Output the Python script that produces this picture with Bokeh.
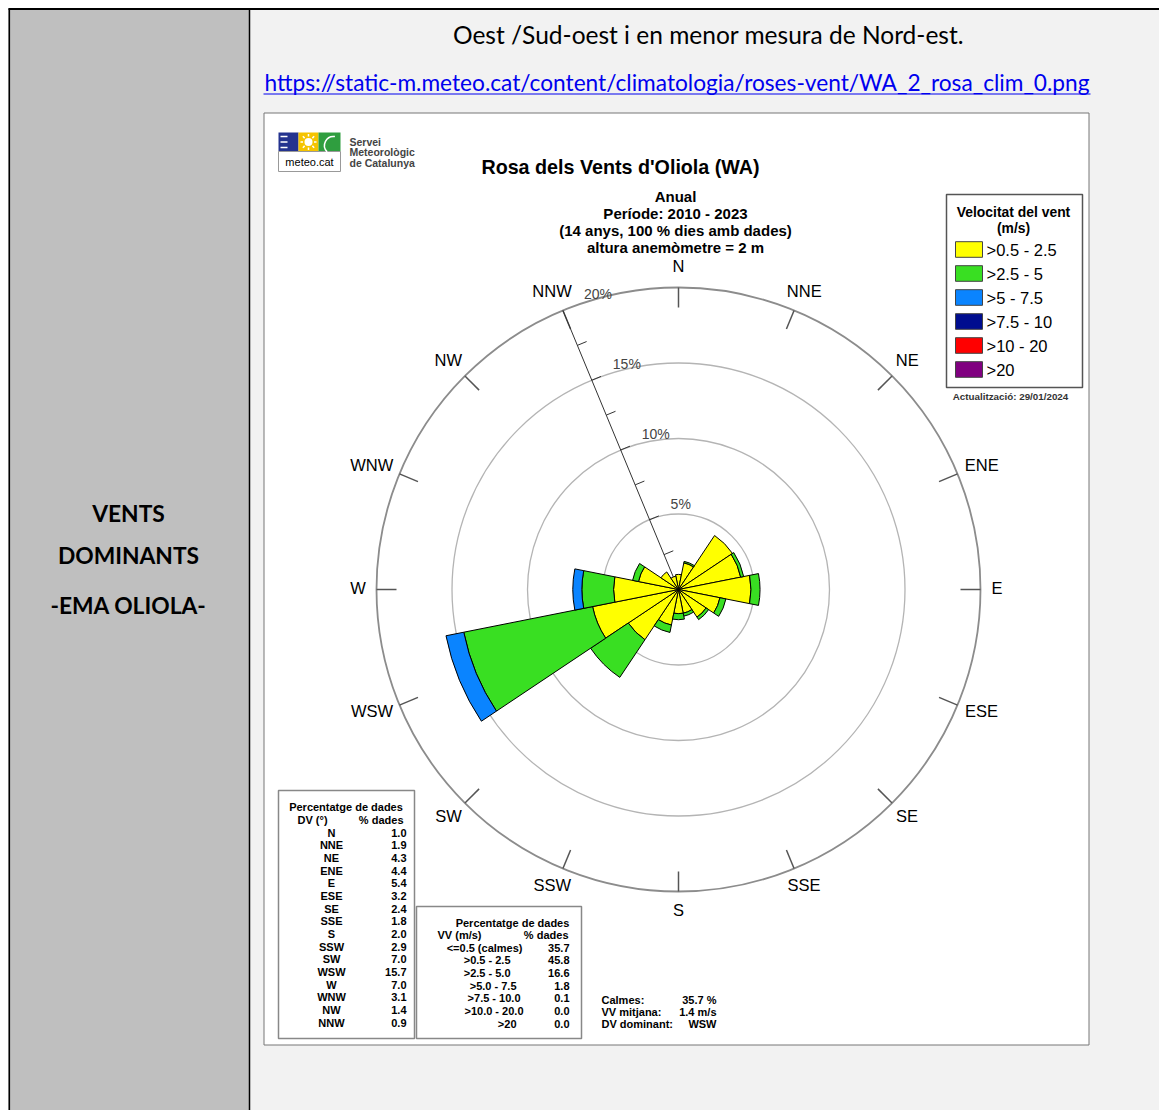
import numpy as np
from bokeh.plotting import figure
from bokeh.models import Range1d
from bokeh.core.properties import value
from bokeh.embed import file_html
from bokeh.resources import INLINE

# ---------------- data ----------------
directions = ["N", "NNE", "NE", "ENE", "E", "ESE", "SE", "SSE",
              "S", "SSW", "SW", "WSW", "W", "WNW", "NW", "NNW"]
pct_total = [1.0, 1.9, 4.3, 4.4, 5.4, 3.2, 2.4, 1.8, 2.0, 2.9, 7.0, 15.7, 7.0, 3.1, 1.4, 0.9]
v_05_25 = [1.0, 1.8, 4.3, 4.2, 4.8, 2.8, 2.2, 1.6, 1.6, 2.4, 4.0, 5.8, 4.3, 2.7, 1.4, 0.9]
v_25_5 = [0.0, 0.1, 0.0, 0.2, 0.6, 0.4, 0.2, 0.2, 0.4, 0.5, 3.0, 8.7, 2.1, 0.4, 0.0, 0.0]
v_5_75 = [0.0, 0.0, 0.0, 0.0, 0.0, 0.0, 0.0, 0.0, 0.0, 0.0, 0.0, 1.2, 0.6, 0.0, 0.0, 0.0]
v_75_10 = [0.0] * 16
v_10_20 = [0.0] * 16
v_gt20 = [0.0] * 16
speed_labels = [">0.5 - 2.5", ">2.5 - 5", ">5 - 7.5", ">7.5 - 10", ">10 - 20", ">20"]
speed_colors = ["#ffff00", "#39df22", "#0a84ff", "#000d8f", "#ff0000", "#800080"]
ring_pct = [5, 10, 15, 20]
vv_classes = ["<=0.5 (calmes)", ">0.5 - 2.5", ">2.5 - 5.0", ">5.0 - 7.5",
              ">7.5 - 10.0", ">10.0 - 20.0", ">20"]
vv_pct = [35.7, 45.8, 16.6, 1.8, 0.1, 0.0, 0.0]
summary_labels = ["Calmes:", "VV mitjana:", "DV dominant:"]
summary_values = ["35.7 %", "1.4 m/s", "WSW"]

# ---------------- figure in page-pixel coordinates ----------------
W, H = 1159, 1110
p = figure(width=W, height=H, x_range=Range1d(0, W), y_range=Range1d(0, H),
           output_backend="svg", toolbar_location=None,
           x_axis_type=None, y_axis_type=None, min_border=0,
           outline_line_color=None, background_fill_color="white",
           border_fill_color="white")


def Y(py):
    return H - np.asarray(py, dtype=float)


def txt(px, py, s, size, color="black", align="left", baseline="middle",
        bold=False, font="Liberation Sans"):
    px = np.atleast_1d(np.asarray(px, dtype=float))
    py = np.atleast_1d(np.asarray(py, dtype=float))
    s = [s] if isinstance(s, str) else list(s)
    if len(px) == 1 and len(s) > 1:
        px = np.repeat(px, len(s))
    if len(py) == 1 and len(s) > 1:
        py = np.repeat(py, len(s))
    p.text(x=list(px), y=list(Y(py)), text=s, text_font=value(font),
           text_font_size=value(f"{size}px"), text_color=color,
           text_align=align, text_baseline=baseline,
           text_font_style="bold" if bold else "normal")


def box(l, t, r, b, fill, line=None, lw=1.0):
    p.quad(left=[l], right=[r], top=[float(Y(t))], bottom=[float(Y(b))],
           fill_color=fill, line_color=line, line_width=lw)


# ---------------- document table ----------------
box(8, 8, 249, 1112, "#bfbfbf")
box(249, 8, 1162, 1112, "#f2f2f2")
p.segment(x0=[8], y0=[float(Y(8.5))], x1=[1162], y1=[float(Y(8.5))], line_color="black", line_width=2)
p.segment(x0=[8.8], y0=[float(Y(8))], x1=[8.8], y1=[float(Y(1112))], line_color="black", line_width=1.6)
p.segment(x0=[249], y0=[float(Y(8))], x1=[249], y1=[float(Y(1112))], line_color="black", line_width=1.5)

txt(128, [512, 554, 604], ["VENTS", "DOMINANTS", "-EMA OLIOLA-"], 22.8, bold=True, align="center", font="Lato")
txt(708, 34, "Oest /Sud-oest i en menor mesura de Nord-est.", 24.5, align="center", font="Lato")
txt(676.5, 82, "https://static-m.meteo.cat/content/climatologia/roses-vent/WA_2_rosa_clim_0.png",
    22.7, color="#0000ee", align="center", font="Lato")
p.segment(x0=[263], y0=[float(Y(93.5))], x1=[1090], y1=[float(Y(93.5))], line_color="#0000ee", line_width=1)

# ---------------- embedded chart frame ----------------
box(263.5, 112.5, 1088.5, 1044.5, "white", "#777777", 1)

# logo
box(278, 132, 298, 151, "#24338f")
box(298, 132, 318, 151, "#f5c400")
box(318, 132, 340, 151, "#2f9e3f")
box(278, 151, 340, 171, "white", "#999999", 1)
p.segment(x0=[280, 280, 280], y0=list(Y([136, 141.5, 147])), x1=[287, 287, 287],
          y1=list(Y([136, 141.5, 147])), line_color="white", line_width=1.5)
ang = np.arange(8) * np.pi / 4
p.segment(x0=list(308 + 5.5 * np.cos(ang)), y0=list(Y(141.5) + 5.5 * np.sin(ang)),
          x1=list(308 + 8 * np.cos(ang)), y1=list(Y(141.5) + 8 * np.sin(ang)),
          line_color="white", line_width=1.5)
p.circle(x=[308], y=[float(Y(141.5))], radius=4, fill_color="white", line_color=None)
p.arc(x=[333], y=[float(Y(145))], radius=9, start_angle=np.pi * 0.45, end_angle=np.pi * 1.25,
      line_color="white", line_width=1.5)
txt(309, 161.5, "meteo.cat", 11, align="center")
txt(349, [141, 151.5, 162], ["Servei", "Meteorològic", "de Catalunya"], 10.5, color="#444444", bold=True)

# titles
txt(620, 166, "Rosa dels Vents d'Oliola (WA)", 19.7, bold=True, align="center")
txt(675, [196, 213, 230, 247], ["Anual", "Període: 2010 - 2023",
                                "(14 anys, 100 % dies amb dades)", "altura anemòmetre = 2 m"],
    15, bold=True, align="center")

# ---------------- wind rose ----------------
cx, cy = 678.0, float(Y(589))
k = 15.1  # px per percent

p.circle(x=[cx] * 3, y=[cy] * 3, radius=[r * k for r in ring_pct[:-1]],
         fill_color=None, line_color="#b4b4b4", line_width=1.3)
p.circle(x=[cx], y=[cy], radius=[ring_pct[-1] * k], fill_color=None,
         line_color="#8c8c8c", line_width=1.8)

theta = np.deg2rad(np.arange(16) * 22.5)
p.segment(x0=list(cx + 282 * np.sin(theta)), y0=list(cy + 282 * np.cos(theta)),
          x1=list(cx + 302 * np.sin(theta)), y1=list(cy + 302 * np.cos(theta)),
          line_color="#555555", line_width=1.5)

# NNW axis with ticks
ta = np.deg2rad(337.5)
ux, uy = np.sin(ta), np.cos(ta)
px_, py_ = np.cos(ta), -np.sin(ta)  # perpendicular to the right
p.segment(x0=[cx], y0=[cy], x1=[cx + ring_pct[-1] * k * ux], y1=[cy + ring_pct[-1] * k * uy],
          line_color="#333333", line_width=1)
tk = np.arange(1, 8) * 2.5
p.segment(x0=list(cx + tk * k * ux), y0=list(cy + tk * k * uy),
          x1=list(cx + tk * k * ux + 10 * px_), y1=list(cy + tk * k * uy + 10 * py_),
          line_color="#333333", line_width=1)
rp = np.array(ring_pct, dtype=float)
p.text(x=list(cx + rp * k * ux + 21), y=list(cy + rp * k * uy + 16),
       text=[f"{int(r)}%" for r in ring_pct], text_font=value("Liberation Sans"),
       text_font_size=value("14px"), text_color="#444444", text_align="left",
       text_baseline="middle")

# stacked sectors
classes = [v_05_25, v_25_5, v_5_75, v_75_10, v_10_20, v_gt20]
cum = np.zeros(16)
math_ang = np.deg2rad(90 - np.arange(16) * 22.5)
half = np.deg2rad(11.25)
for vals, col in zip(classes, speed_colors):
    vals = np.asarray(vals, dtype=float)
    m = vals > 0
    if m.any():
        p.annular_wedge(x=[cx] * int(m.sum()), y=[cy] * int(m.sum()),
                        inner_radius=list(cum[m] * k), outer_radius=list((cum[m] + vals[m]) * k),
                        start_angle=list(math_ang[m] - half), end_angle=list(math_ang[m] + half),
                        fill_color=col, line_color="black", line_width=1)
    cum = cum + vals

# direction labels
cw = {"N": 11.9, "E": 11.0, "S": 11.0, "W": 15.6}
lw_ = np.array([sum(cw[c] for c in d) for d in directions])
ax_ = cx + 314 * np.sin(theta) + lw_ * 0.42 * np.sin(theta)
ay_ = cy + 314 * np.cos(theta) + 8 * np.cos(theta) + 1.5
p.text(x=list(ax_), y=list(ay_), text=directions, text_font=value("Liberation Sans"),
       text_font_size=value("16.5px"), text_color="black", text_align="center",
       text_baseline="middle")

# ---------------- legend ----------------
box(946, 194, 1082, 387, "white", "#555555", 1.5)
txt(1013, [211, 227], ["Velocitat del vent", "(m/s)"], 13.9, bold=True, align="center")
rows = 249 + 24 * np.arange(len(speed_labels))
p.quad(left=[955] * 6, right=[982] * 6, top=list(Y(rows - 7.8)), bottom=list(Y(rows + 7.8)),
       fill_color=speed_colors, line_color="#444444", line_width=1)
txt(986, rows, speed_labels, 16.5)
txt(1010, 396, "Actualització: 29/01/2024", 9.8, color="#333333", bold=True, align="center")

# ---------------- table 1 : directions ----------------
box(278, 790, 414, 1038, "white", "#888888", 1.5)
txt(345.5, 806, "Percentatge de dades", 11, bold=True, align="center")
txt(297, 819, "DV (°)", 11, bold=True)
txt(403, 819, "% dades", 11, bold=True, align="right")
r1 = 832 + 12.67 * np.arange(16)
txt(331, r1, directions, 11, bold=True, align="center")
txt(406, r1, [f"{v:.1f}" for v in pct_total], 11, bold=True, align="right")

# ---------------- table 2 : speed classes ----------------
box(416, 906, 581, 1038, "white", "#888888", 1.5)
txt(512, 922, "Percentatge de dades", 11, bold=True, align="center")
txt(437, 934, "VV (m/s)", 11, bold=True)
txt(568, 934, "% dades", 11, bold=True, align="right")
r2 = 947 + 12.67 * np.arange(len(vv_classes))
vv_label_right = [522, 510, 510, 516, 520, 523, 516]
txt(vv_label_right, r2, vv_classes, 11, bold=True, align="right")
txt(569, r2, [f"{v:.1f}" for v in vv_pct], 11, bold=True, align="right")

# summary
r3 = 999 + 12 * np.arange(3)
txt(601, r3, summary_labels, 11, bold=True)
txt(716, r3, summary_values, 11, bold=True, align="right")

open("out.html", "w").write(file_html(p, INLINE))
